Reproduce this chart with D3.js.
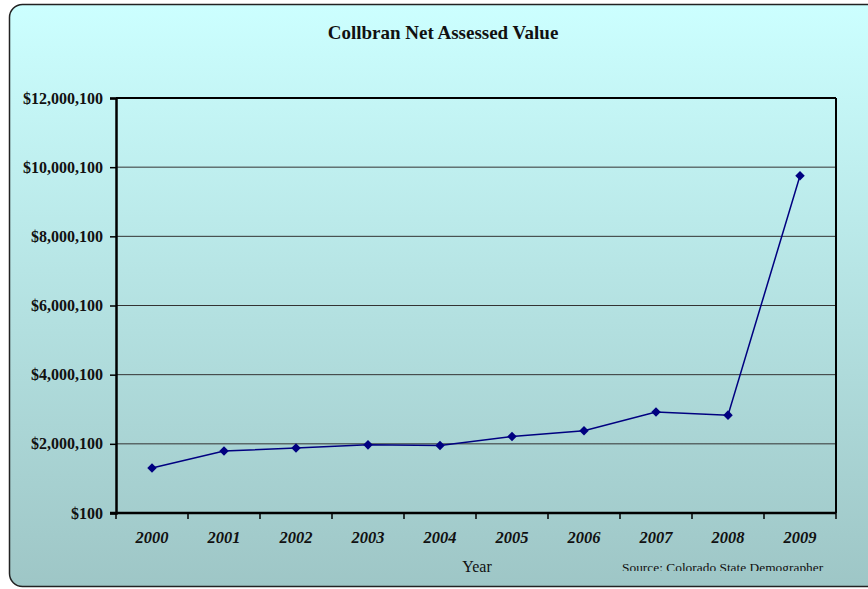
<!DOCTYPE html>
<html><head><meta charset="utf-8">
<script src="https://cdn.jsdelivr.net/npm/d3@7"></script>
<style>body{margin:0;background:#fff;}svg{display:block;}</style>
</head><body>
<svg id="c" width="868" height="589"></svg>
<script>
const years = ["2000","2001","2002","2003","2004","2005","2006","2007","2008","2009"];
const values = [1300000,1790000,1880000,1970000,1950000,2210000,2380000,2920000,2830000,9750000];
const yTicks = [100,2000100,4000100,6000100,8000100,10000100,12000100];
const title = "Collbran Net Assessed Value";
const xTitle = "Year";
const source = "Source: Colorado State Demographer";

const svg = d3.select("#c");
const defs = svg.append("defs");
const g = defs.append("linearGradient").attr("id","bg").attr("x1",0).attr("y1",0).attr("x2",0).attr("y2",1);
g.append("stop").attr("offset","0%").attr("stop-color","#ccffff");
g.append("stop").attr("offset","100%").attr("stop-color","#9ec6c6");
defs.append("clipPath").attr("id","srcclip").append("rect").attr("x",0).attr("y",0).attr("width",868).attr("height",571);

svg.append("rect").attr("x",9.5).attr("y",4.5).attr("width",870).attr("height",582)
  .attr("rx",13).attr("fill","url(#bg)").attr("stroke","#222").attr("stroke-width",1.5);

const L=116,R=836,T=98,B=513;
const FONT = "'Liberation Serif','Times New Roman',serif";
const x = d3.scaleBand().domain(years).range([L,R]);
const y = d3.scaleLinear().domain([100,12000100]).range([B,T]);

// gridlines
svg.append("g").selectAll("line").data(yTicks.slice(1,-1)).join("line")
  .attr("x1",L).attr("x2",R).attr("y1",d=>y(d)).attr("y2",d=>y(d))
  .attr("stroke","#333").attr("stroke-width",1);

// plot border top/right
svg.append("line").attr("x1",L).attr("x2",R).attr("y1",T).attr("y2",T).attr("stroke","#000").attr("stroke-width",2);
svg.append("line").attr("x1",R).attr("x2",R).attr("y1",T).attr("y2",B).attr("stroke","#000").attr("stroke-width",2);

// axes
const yAxis = d3.axisLeft(y).tickValues(yTicks).tickSize(6).tickPadding(7)
  .tickFormat(d=>"$"+d3.format(",")(d));
const ya = svg.append("g").attr("transform",`translate(${L},0)`).call(yAxis);
ya.select(".domain").attr("stroke","#000").attr("stroke-width",2.5);
ya.selectAll(".tick line").attr("stroke","#000").attr("stroke-width",1.5);
ya.selectAll("text").attr("font-family",FONT)
  .attr("font-weight","bold").attr("font-size","16px").attr("fill","#111");

const xa = svg.append("g").attr("transform",`translate(0,${B})`);
xa.append("line").attr("x1",L-6).attr("x2",R).attr("y1",0).attr("y2",0).attr("stroke","#000").attr("stroke-width",2.5);
const bounds = years.map(d=>x(d)).concat([R]);
xa.selectAll("line.tk").data(bounds).join("line").attr("class","tk")
  .attr("x1",d=>d).attr("x2",d=>d).attr("y1",0).attr("y2",6).attr("stroke","#000").attr("stroke-width",1.5);
xa.selectAll("text").data(years).join("text")
  .attr("x",d=>x(d)+x.bandwidth()/2).attr("y",30).attr("text-anchor","middle")
  .attr("font-family",FONT)
  .attr("font-weight","bold").attr("font-style","italic").attr("font-size","16.5px").attr("fill","#111")
  .text(d=>d);

// line
const line = d3.line().x((d,i)=>x(years[i])+x.bandwidth()/2).y(d=>y(d));
svg.append("path").datum(values).attr("d",line).attr("fill","none").attr("stroke","#000080").attr("stroke-width",1.5);
svg.append("g").selectAll("path").data(values).join("path")
  .attr("d",d3.symbol().type(d3.symbolDiamond2).size(58)())
  .attr("transform",(d,i)=>`translate(${x(years[i])+x.bandwidth()/2},${y(d)})`)
  .attr("fill","#000080");

// titles
svg.append("text").attr("x",443).attr("y",39).attr("text-anchor","middle")
  .attr("font-family",FONT).attr("font-weight","bold")
  .attr("font-size","19px").attr("fill","#111").text(title);
svg.append("text").attr("x",477).attr("y",572).attr("text-anchor","middle")
  .attr("font-family",FONT)
  .attr("font-size","16px").attr("fill","#111").text(xTitle);
svg.append("text").attr("x",622).attr("y",572).attr("clip-path","url(#srcclip)")
  .attr("font-family",FONT)
  .attr("font-size","13.4px").attr("fill","#111").text(source);
</script>
</body></html>
